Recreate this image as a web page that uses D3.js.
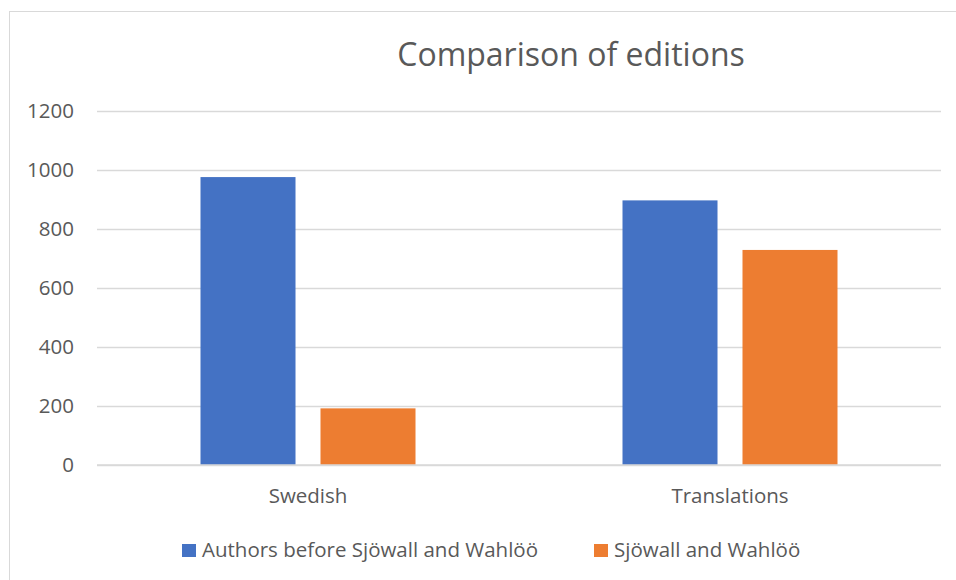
<!DOCTYPE html>
<html>
<head>
<meta charset="utf-8">
<script src="https://cdn.jsdelivr.net/npm/d3@7"></script>
<style>
  body { margin: 0; background: #fff; }
  text { font-family: "Open Sans", "Noto Sans", sans-serif; fill: #595959; }
</style>
</head>
<body>
<div id="vis"></div>
<script>
// chart data
const CATEGORIES = ['Swedish', 'Translations'];
const SERIES = ['Authors before Sjöwall and Wahlöö', 'Sjöwall and Wahlöö'];
const AUTHORS_BEFORE = [976, 897];
const SJOWALL_WAHLOO = [192, 729];
const Y_TICKS = [0, 200, 400, 600, 800, 1000, 1200];
const COLORS = ['#4472C4', '#ED7D31'];

const FRAME_WIDTH = 956;
const FRAME_HEIGHT = 580;
const MARGINS = {left: 97, right: 15, top: 111, bottom: 115};
const VIS_WIDTH = FRAME_WIDTH - MARGINS.left - MARGINS.right;
const VIS_HEIGHT = FRAME_HEIGHT - MARGINS.top - MARGINS.bottom;
const LABEL_SIZE = '20.5px';

const FRAME = d3.select('#vis')
    .append('svg')
        .attr('width', FRAME_WIDTH)
        .attr('height', FRAME_HEIGHT);

// chart area border
FRAME.append('rect')
    .attr('x', 9.5)
    .attr('y', 11.5)
    .attr('width', FRAME_WIDTH)
    .attr('height', FRAME_HEIGHT)
    .attr('fill', 'none')
    .attr('stroke', '#d9d9d9')
    .attr('stroke-width', 1);

const X0 = d3.scaleBand()
    .domain(CATEGORIES)
    .range([0, VIS_WIDTH]);

const X1 = d3.scaleBand()
    .domain(SERIES)
    .range([103.5, X0.bandwidth() - 103.5])
    .paddingInner(0.2083);

const Y_SCALE = d3.scaleLinear()
    .domain([0, 1200])
    .range([VIS_HEIGHT, 0]);

const PLOT = FRAME.append('g')
    .attr('transform', 'translate(' + MARGINS.left + ',' + MARGINS.top + ')');

// gridlines
PLOT.append('g')
    .call(d3.axisLeft(Y_SCALE).tickValues(Y_TICKS).tickSize(-VIS_WIDTH).tickFormat(''))
    .call(g => g.select('.domain').remove())
    .call(g => g.selectAll('line').attr('stroke', '#d9d9d9').attr('stroke-width', 1.3));

// y tick labels
PLOT.append('g')
    .call(d3.axisLeft(Y_SCALE).tickValues(Y_TICKS).tickSize(0).tickPadding(23).tickFormat(d3.format('d')))
    .call(g => g.select('.domain').remove())
    .call(g => g.selectAll('text')
        .attr('font-size', LABEL_SIZE)
        .style('font-family', '"Open Sans", sans-serif')
        .attr('fill', '#595959'));

// bars
const rows = CATEGORIES.map((c, i) => ({category: c, values: [AUTHORS_BEFORE[i], SJOWALL_WAHLOO[i]]}));

PLOT.selectAll('.group')
    .data(rows)
    .enter()
    .append('g')
    .attr('class', 'group')
    .attr('transform', d => 'translate(' + X0(d.category) + ',0)')
    .selectAll('rect')
    .data(d => d.values.map((v, j) => ({series: SERIES[j], value: v, j: j})))
    .enter()
    .append('rect')
    .attr('x', d => X1(d.series))
    .attr('width', X1.bandwidth())
    .attr('y', d => Y_SCALE(d.value))
    .attr('height', d => VIS_HEIGHT - Y_SCALE(d.value))
    .attr('fill', d => COLORS[d.j]);

// x axis line and labels
PLOT.append('line')
    .attr('x1', 0).attr('x2', VIS_WIDTH)
    .attr('y1', VIS_HEIGHT).attr('y2', VIS_HEIGHT)
    .attr('stroke', '#d9d9d9').attr('stroke-width', 1.3);

PLOT.append('g')
    .selectAll('text')
    .data(CATEGORIES)
    .enter()
    .append('text')
    .attr('x', d => X0(d) + X0.bandwidth() / 2)
    .attr('y', VIS_HEIGHT + 38)
    .attr('text-anchor', 'middle')
    .attr('font-size', LABEL_SIZE)
    .text(d => d);

// title
FRAME.append('text')
    .attr('x', 571)
    .attr('y', 66)
    .attr('text-anchor', 'middle')
    .attr('font-size', '32px')
    .text('Comparison of editions');

// legend
const LEGEND_X = [182, 594];
const legend = FRAME.append('g')
    .selectAll('g')
    .data(SERIES)
    .enter()
    .append('g')
    .attr('transform', (d, i) => 'translate(' + LEGEND_X[i] + ',544)');

legend.append('rect')
    .attr('width', 14)
    .attr('height', 13)
    .attr('fill', (d, i) => COLORS[i]);

legend.append('text')
    .attr('x', 20)
    .attr('y', 13)
    .attr('font-size', LABEL_SIZE)
    .text(d => d);
</script>
</body>
</html>
